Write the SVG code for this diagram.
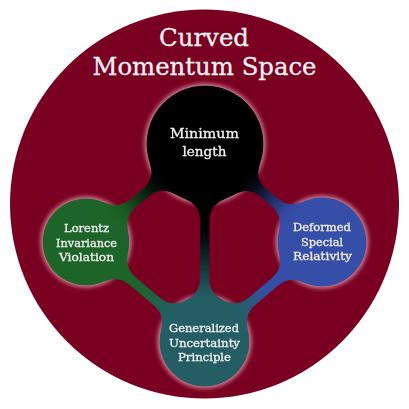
<svg xmlns="http://www.w3.org/2000/svg" width="409" height="409" viewBox="0 0 409 409">
<style>
text{fill:#f2f2f2;text-anchor:middle;font-family:"DejaVu Serif","Liberation Serif",serif;stroke:#f2f2f2;stroke-width:0.3px}
.halo{fill:#f0b8c4;opacity:0.7;filter:url(#soft)}
</style>
<defs>
<filter id="goo" filterUnits="userSpaceOnUse" x="0" y="0" width="409" height="409" color-interpolation-filters="sRGB">
<feGaussianBlur in="SourceGraphic" stdDeviation="8" result="b"/>
<feColorMatrix in="b" type="matrix" values="1 0 0 0 0  0 1 0 0 0  0 0 1 0 0  0 0 0 24 -12"/>
</filter>
<filter id="soft" x="-20%" y="-20%" width="140%" height="140%">
<feGaussianBlur stdDeviation="2.2"/>
</filter>
<linearGradient id="g1" gradientUnits="userSpaceOnUse" x1="59" y1="0" x2="110.2" y2="0"><stop offset="0" stop-color="#000"/><stop offset="1" stop-color="#1d6428"/></linearGradient>
<linearGradient id="g2" gradientUnits="userSpaceOnUse" x1="59" y1="0" x2="107.6" y2="0"><stop offset="0" stop-color="#000"/><stop offset="1" stop-color="#354ea8"/></linearGradient>
<linearGradient id="g3" gradientUnits="userSpaceOnUse" x1="59" y1="0" x2="152" y2="0"><stop offset="0.3" stop-color="#000"/><stop offset="1" stop-color="#245e64"/></linearGradient>
<linearGradient id="g4" gradientUnits="userSpaceOnUse" x1="44" y1="0" x2="109.2" y2="0"><stop offset="0.4" stop-color="#1d6428"/><stop offset="1" stop-color="#245e64"/></linearGradient>
<linearGradient id="g5" gradientUnits="userSpaceOnUse" x1="45" y1="0" x2="108.5" y2="0"><stop offset="0.4" stop-color="#354ea8"/><stop offset="1" stop-color="#245e64"/></linearGradient>
</defs>
<circle id="background" cx="204.5" cy="204" r="194.5" fill="#7a0022"/>
<g id="title" font-size="25">
<text x="204" y="46" textLength="90" lengthAdjust="spacingAndGlyphs">Curved</text>
<text x="204.5" y="75" textLength="224" lengthAdjust="spacingAndGlyphs">Momentum Space</text>
</g>
<g id="halos">
<circle class="halo" cx="205" cy="144" r="60.5"/>
<circle class="halo" cx="86" cy="242" r="45.5"/>
<circle class="halo" cx="322" cy="242" r="46.5"/>
<circle class="halo" cx="204.5" cy="341.5" r="47"/>
</g>
<g id="network" filter="url(#goo)">
<g id="connectors">
<rect x="0" y="-6.5" width="154.2" height="13" fill="url(#g1)" transform="translate(205,144) rotate(140.5)"/>
<rect x="0" y="-6.5" width="152.6" height="13" fill="url(#g2)" transform="translate(205,144) rotate(39.95)"/>
<rect x="0" y="-6.5" width="197.5" height="13" fill="url(#g3)" transform="translate(205,144) rotate(90.15)"/>
<rect x="0" y="-6.5" width="154.7" height="13" fill="url(#g4)" transform="translate(86,242) rotate(40)"/>
<rect x="0" y="-6.5" width="154" height="13" fill="url(#g5)" transform="translate(322,242) rotate(139.74)"/>
</g>
<circle id="disc-minimum" cx="205" cy="144" r="59.3" fill="#000"/>
<circle id="disc-lorentz" cx="86" cy="242" r="44.4" fill="#1d6428"/>
<circle id="disc-dsr" cx="322" cy="242" r="45.4" fill="#354ea8"/>
<circle id="disc-gup" cx="204.5" cy="341.5" r="45.9" fill="#245e64"/>
</g>
<g id="node-minimum" font-size="13.5">
<text x="204.5" y="137.5" textLength="69" lengthAdjust="spacingAndGlyphs">Minimum</text>
<text x="204.5" y="155.5" textLength="44" lengthAdjust="spacingAndGlyphs">length</text>
</g>
<g id="node-lorentz" font-size="11.5">
<text x="86.5" y="231.5" textLength="45" lengthAdjust="spacingAndGlyphs">Lorentz</text>
<text x="86.5" y="246.5" textLength="61" lengthAdjust="spacingAndGlyphs">Invariance</text>
<text x="86.5" y="260.5" textLength="55" lengthAdjust="spacingAndGlyphs">Violation</text>
</g>
<g id="node-dsr" font-size="11.5">
<text x="322" y="231" textLength="58" lengthAdjust="spacingAndGlyphs">Deformed</text>
<text x="322" y="245.5" textLength="42" lengthAdjust="spacingAndGlyphs">Special</text>
<text x="322.5" y="259.5" textLength="59" lengthAdjust="spacingAndGlyphs">Relativity</text>
</g>
<g id="node-gup" font-size="11.5">
<text x="204" y="332" textLength="70" lengthAdjust="spacingAndGlyphs">Generalized</text>
<text x="204.5" y="346.5" textLength="71" lengthAdjust="spacingAndGlyphs">Uncertainty</text>
<text x="204.5" y="361" textLength="53" lengthAdjust="spacingAndGlyphs">Principle</text>
</g>
</svg>
